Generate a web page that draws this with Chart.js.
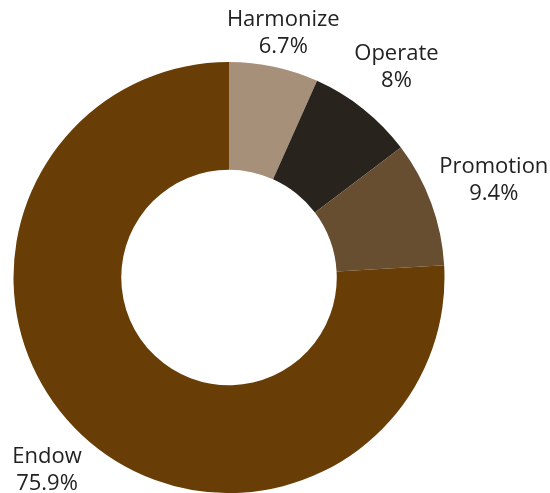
<!DOCTYPE html>
<html>
<head>
<meta charset="utf-8">
<script src="https://cdn.jsdelivr.net/npm/chart.js@4"></script>
<style>
  html, body { margin: 0; padding: 0; background: #fff; }
  #wrap { width: 550px; height: 493px; }
</style>
</head>
<body>
<div id="wrap"><canvas id="donut"></canvas></div>
<script>
// data
const categories = ['Harmonize', 'Operate', 'Promotion', 'Endow'];
const shares = [6.7, 8, 9.4, 75.9];
const sliceColors = ['#a69079', '#28241d', '#674e30', '#693e06'];

// labels outside each slice: name + percent, pushed out along the mid-angle ray
const outerLabels = {
  id: 'outerLabels',
  afterDatasetsDraw(chart) {
    const ctx = chart.ctx;
    const meta = chart.getDatasetMeta(0);
    ctx.save();
    ctx.font = '22px "Open Sans"';
    ctx.fillStyle = '#222';
    ctx.textAlign = 'center';
    ctx.textBaseline = 'middle';
    const lineH = 27;
    meta.data.forEach((arc, i) => {
      const mid = (arc.startAngle + arc.endAngle) / 2;
      const ux = Math.cos(mid), uy = Math.sin(mid);
      const lines = [categories[i], shares[i] + '%'];
      const w = Math.max(...lines.map(t => ctx.measureText(t).width));
      const h = lineH * 2;
      // distance so the text box just clears the ring, plus a small gap
      const reach = Math.abs(ux) * w / 2 + Math.abs(uy) * h / 2;
      const r = arc.outerRadius + 6 + reach;
      const tx = arc.x + ux * r;
      let ty = arc.y + uy * r;
      // keep the top label inside the canvas
      ty = Math.max(ty, h / 2 + 6);
      ctx.fillText(lines[0], tx, ty - lineH / 2);
      ctx.fillText(lines[1], tx, ty + lineH / 2);
    });
    ctx.restore();
  }
};

new Chart(document.getElementById('donut'), {
  type: 'doughnut',
  data: {
    labels: categories,
    datasets: [{
      data: shares,
      backgroundColor: sliceColors,
      borderWidth: 0
    }]
  },
  options: {
    responsive: true,
    maintainAspectRatio: false,
    animation: false,
    cutout: '50%',
    layout: { padding: { top: 62, bottom: 0, left: 13, right: 105 } },
    plugins: {
      legend: { display: false },
      tooltip: { enabled: false }
    }
  },
  plugins: [outerLabels]
});
</script>
</body>
</html>
